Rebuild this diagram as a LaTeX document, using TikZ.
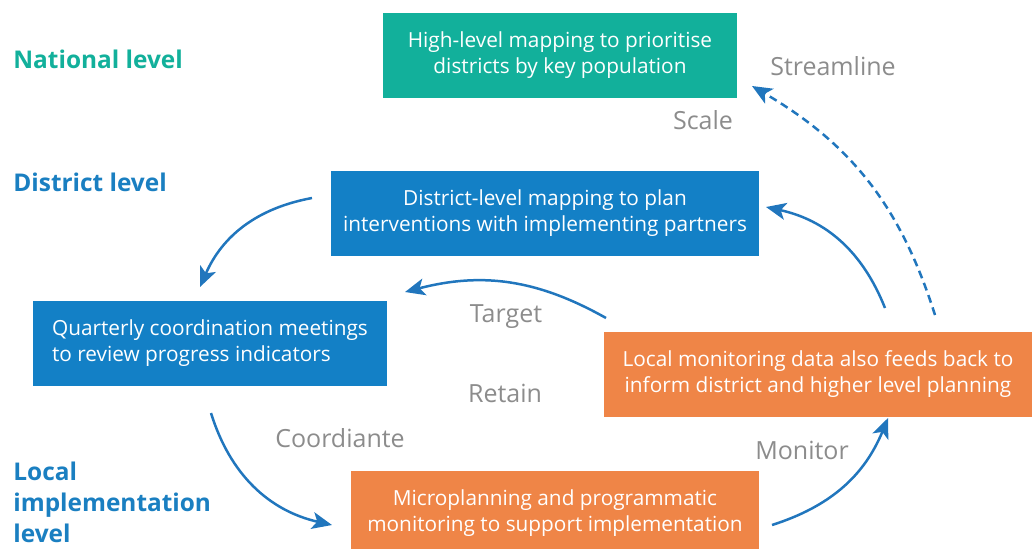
\documentclass[tikz,border=0pt]{standalone}
\usepackage{fontspec}
\setmainfont{Open Sans}
\usepackage{xcolor}
\usepackage{tikz}
\usetikzlibrary{arrows.meta}

\definecolor{tealbox}{HTML}{12B09B}
\definecolor{bluebox}{HTML}{1380C6}
\definecolor{orangebox}{HTML}{EF8547}
\definecolor{levelblue}{HTML}{1A7FC1}
\definecolor{labelgray}{HTML}{8C8C8C}
\definecolor{arrowblue}{HTML}{2176BD}

\tikzset{
  box/.style={rectangle, text=white, align=center, inner sep=0pt,
    minimum height=42.5pt, font=\fontsize{10.4}{13}\selectfont},
  level/.style={anchor=west, align=left, inner sep=0pt,
    font=\fontsize{12.2}{15.5}\selectfont\bfseries},
  verb/.style={text=labelgray, font=\fontsize{12.5}{14}\selectfont},
  flow/.style={draw=arrowblue, line width=1.25pt,
    -{Stealth[length=10pt,width=8.5pt,inset=2.5pt]}},
}

\begin{document}
\begin{tikzpicture}[x=0.5pt,y=-0.5pt]
\useasboundingbox (0,0) rectangle (1033,548);

% levels
\node[level, text=tealbox] (nat) at (13,59) {National level};
\node[level, text=levelblue] (dis) at (13,182) {District level};
\node[level, text=levelblue] (loc) at (13,502) {Local\\implementation\\level};

% boxes
\node[box, fill=tealbox, minimum width=177pt] (map) at (560,55)
  {High-level mapping to prioritise\\districts by key population};
\node[box, fill=bluebox, minimum width=214pt] (plan) at (545,213)
  {District-level mapping to plan\\interventions with implementing partners};
\node[box, fill=bluebox, minimum width=177pt, align=left] (meet) at (210,343)
  {Quarterly coordination meetings\\to review progress indicators};
\node[box, fill=orangebox, minimum width=214pt] (data) at (818,374)
  {Local monitoring data also feeds back to\\inform district and higher level planning};
\node[box, fill=orangebox, minimum width=204pt] (micro) at (555,513)
  {Microplanning and programmatic\\monitoring to support implementation};

% labels
\node[verb] (streamline) at (833,66) {Streamline};
\node[verb] (scale) at (703,120) {Scale};
\node[verb] (target) at (506,317) {Target};
\node[verb] (retain) at (505,393) {Retain};
\node[verb] (coord) at (340,438) {Coordiante};
\node[verb] (monitor) at (802,450) {Monitor};

% arrow ends
\coordinate (s1) at (935,315);
\coordinate (e1) at (752,86);
\coordinate (s2) at (885,308);
\coordinate (e2) at (766,207);
\coordinate (s3) at (312,198);
\coordinate (e3) at (200,287);
\coordinate (s4) at (211,413);
\coordinate (e4) at (332,525);
\coordinate (s5) at (772,525);
\coordinate (e5) at (888,418);
\coordinate (s6) at (606,318);
\coordinate (e6) at (405,292);

\draw[flow, dash pattern=on 4pt off 2.5pt] (s1) to[bend right=21] (e1);
\draw[flow] (s2) to[bend right=28] (e2);
\draw[flow] (s3) to[bend right=28] (e3);
\draw[flow] (s4) to[bend right=30] (e4);
\draw[flow] (s5) to[bend right=25] (e5);
\draw[flow] (s6) to[bend right=22] (e6);
\end{tikzpicture}
\end{document}
